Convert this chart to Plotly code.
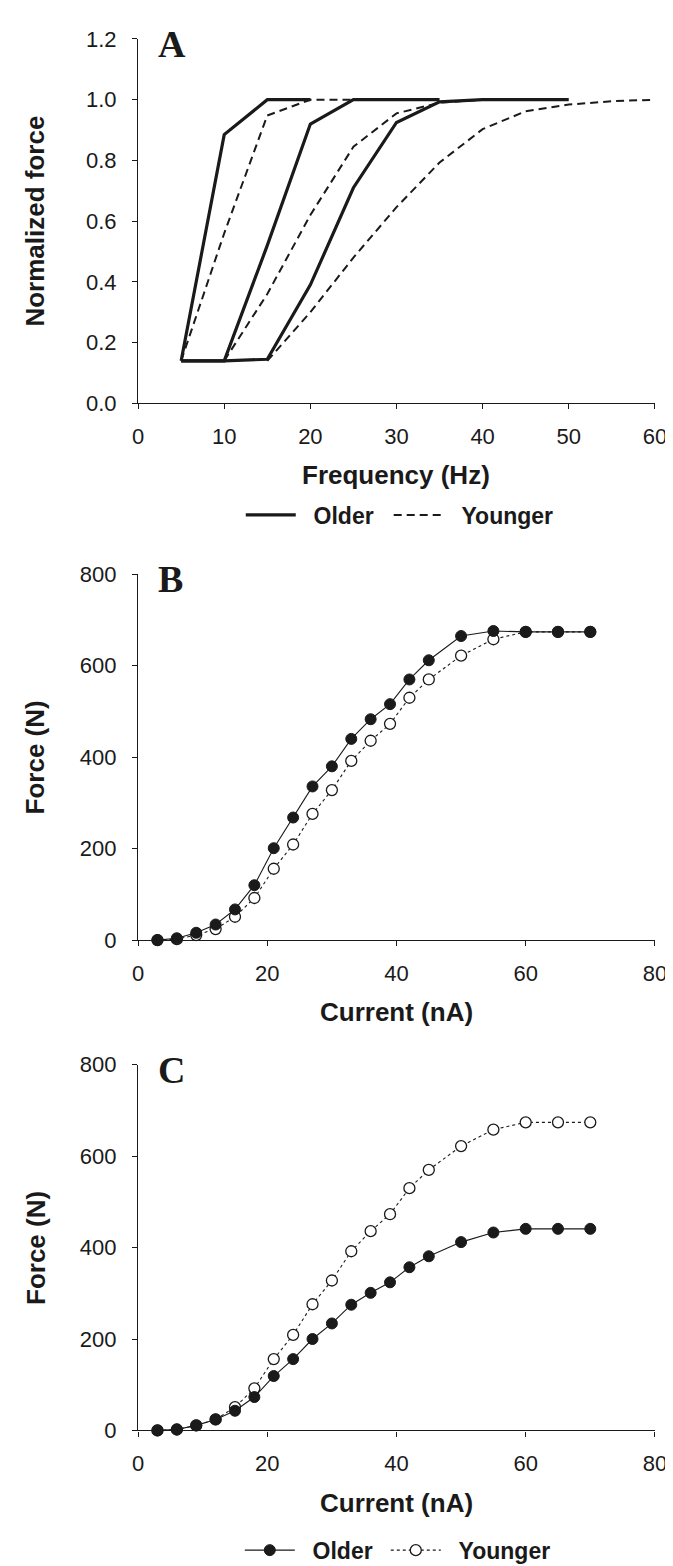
import plotly.graph_objects as go

# ---------------- Panel A data (normalized force vs frequency) ----------------
freq_old_1 = [5, 10, 15, 20]
force_old_1 = [0.14, 0.885, 1.0, 1.0]
freq_old_2 = [5, 10, 15, 20, 25, 30, 35]
force_old_2 = [0.14, 0.14, 0.52, 0.92, 1.0, 1.0, 1.0]
freq_old_3 = [5, 10, 15, 20, 25, 30, 35, 40, 45, 50]
force_old_3 = [0.14, 0.14, 0.145, 0.39, 0.71, 0.925, 0.993, 1.0, 1.0, 1.0]

freq_yng_1 = [5, 10, 15, 20, 25]
force_yng_1 = [0.14, 0.56, 0.948, 1.0, 1.0]
freq_yng_2 = [10, 15, 20, 25, 30, 35, 40]
force_yng_2 = [0.14, 0.36, 0.62, 0.845, 0.955, 0.99, 1.0]
freq_yng_3 = [15, 20, 25, 30, 35, 40, 45, 50, 55, 60]
force_yng_3 = [0.14, 0.30, 0.48, 0.646, 0.793, 0.903, 0.962, 0.984, 0.995, 1.0]

# ---------------- Panels B and C data (force vs current) ----------------
current = [3, 6, 9, 12, 15, 18, 21, 24, 27, 30, 33, 36, 39, 42, 45, 50, 55, 60, 65, 70]
force_B_older = [0, 4, 16, 34, 67, 120, 201, 268, 336, 380, 440, 483, 516, 570,
                 612, 665, 676, 674, 674, 674]
force_younger = [0, 2, 11, 24, 51, 92, 156, 209, 276, 328, 392, 436, 473, 530,
                 570, 622, 658, 674, 674, 674]
force_C_older = [0, 2, 11, 24, 43, 73, 119, 156, 200, 234, 275, 301, 324, 357,
                 381, 412, 433, 441, 441, 441]

series_names = ["Older", "Younger"]

tickvals_A_x = [0, 10, 20, 30, 40, 50, 60]
tickvals_A_y = [0.0, 0.2, 0.4, 0.6, 0.8, 1.0, 1.2]
tickvals_BC_x = [0, 20, 40, 60, 80]
tickvals_BC_y = [0, 200, 400, 600, 800]

INK = "#1a1a1a"
SANS = "Liberation Sans, Arial, sans-serif"
SERIF = "Liberation Serif, Times New Roman, serif"
W, H = 673, 1566
PAD = "\u00a0\u00a0"  # small gap between legend symbol and label

fig = go.Figure()

# Panel A
old_sets = [(freq_old_1, force_old_1), (freq_old_2, force_old_2), (freq_old_3, force_old_3)]
yng_sets = [(freq_yng_1, force_yng_1), (freq_yng_2, force_yng_2), (freq_yng_3, force_yng_3)]
for i, (xs, ys) in enumerate(yng_sets):
    fig.add_trace(go.Scatter(x=xs, y=ys, mode="lines", name=PAD + series_names[1],
                             line=dict(color=INK, width=2, dash="8px,5px"),
                             legendgroup="yA", showlegend=(i == 0), legend="legend2",
                             xaxis="x", yaxis="y"))
for i, (xs, ys) in enumerate(old_sets):
    fig.add_trace(go.Scatter(x=xs, y=ys, mode="lines", name=PAD + series_names[0],
                             line=dict(color=INK, width=3.2),
                             legendgroup="oA", showlegend=(i == 0), legend="legend",
                             xaxis="x", yaxis="y"))

# Panels B and C
def add_pair(older, xa, ya, show):
    fig.add_trace(go.Scatter(x=current, y=force_younger, mode="lines+markers",
                             name=PAD + series_names[1],
                             line=dict(color=INK, width=1.1, dash="dot"),
                             marker=dict(symbol="circle", size=11, color="white",
                                         line=dict(color=INK, width=1.3)),
                             cliponaxis=False, showlegend=show, legend="legend4",
                             xaxis=xa, yaxis=ya))
    fig.add_trace(go.Scatter(x=current, y=older, mode="lines+markers",
                             name=PAD + series_names[0],
                             line=dict(color=INK, width=1.1),
                             marker=dict(symbol="circle", size=11, color=INK,
                                         line=dict(color=INK, width=1)),
                             cliponaxis=False, showlegend=show, legend="legend3",
                             xaxis=xa, yaxis=ya))

add_pair(force_B_older, "x2", "y2", False)
add_pair(force_C_older, "x3", "y3", True)

xdom = [127.5 / W, 658.5 / W]
def ydom(top_px, bot_px):
    return [(H - bot_px) / H, (H - top_px) / H]

axis_common = dict(showline=True, linecolor=INK, linewidth=1.3, ticks="outside",
                   ticklen=5, tickwidth=1.3, tickcolor=INK, showgrid=False,
                   zeroline=False, tickfont=dict(family=SANS, size=22, color=INK),
                   fixedrange=True)
ycommon = dict(axis_common, ticklabelstandoff=11)
xcommon = dict(axis_common, ticklabelstandoff=8)

def leg(x_px, y_px):
    return dict(orientation="h", x=x_px / W, xanchor="left", y=(H - y_px) / H, yanchor="middle",
                font=dict(family=SANS, size=23, color=INK, weight="bold"),
                bgcolor="rgba(0,0,0,0)", itemwidth=50, borderwidth=0)

fig.update_layout(
    width=W, height=H,
    margin=dict(l=0, r=0, t=0, b=0),
    paper_bgcolor="white", plot_bgcolor="white",
    xaxis=dict(domain=xdom, range=[0, 60], tickvals=tickvals_A_x, anchor="y", **xcommon),
    yaxis=dict(domain=ydom(19.3, 389.5), range=[0, 1.2], tickvals=tickvals_A_y,
               tickformat=".1f", anchor="x", **ycommon),
    xaxis2=dict(domain=xdom, range=[0, 80], tickvals=tickvals_BC_x, anchor="y2", **xcommon),
    yaxis2=dict(domain=ydom(563.3, 935), range=[0, 800], tickvals=tickvals_BC_y,
                anchor="x2", **ycommon),
    xaxis3=dict(domain=xdom, range=[0, 80], tickvals=tickvals_BC_x, anchor="y3", **xcommon),
    yaxis3=dict(domain=ydom(1061.7, 1433.3), range=[0, 800], tickvals=tickvals_BC_y,
                anchor="x3", **ycommon),
    legend=leg(233, 503),
    legend2=leg(385, 503),
    legend3=leg(232, 1555),
    legend4=leg(382, 1555),
    showlegend=True,
)

annotations = []
# panel letters
for letter, cy in [("A", 24), ("B", 568.5), ("C", 1067.3)]:
    annotations.append(dict(text=letter, x=146 / W, xanchor="left", y=(H - cy) / H,
                            yanchor="middle", xref="paper", yref="paper", showarrow=False,
                            font=dict(family=SERIF, size=38, color=INK, weight="bold")))
# x-axis titles
for txt, cy in [("Frequency (Hz)", 462), ("Current (nA)", 1008), ("Current (nA)", 1507)]:
    annotations.append(dict(text=txt, x=393 / W, xanchor="center", y=(H - cy) / H,
                            yanchor="middle", xref="paper", yref="paper", showarrow=False,
                            font=dict(family=SANS, size=26, color=INK, weight="bold")))
# y-axis titles
for txt, cy in [("Normalized force", 204.4), ("Force (N)", 749), ("Force (N)", 1247.5)]:
    annotations.append(dict(text=txt, x=22 / W, xanchor="center", y=(H - cy) / H,
                            yanchor="middle", xref="paper", yref="paper", showarrow=False,
                            textangle=-90,
                            font=dict(family=SANS, size=26, color=INK, weight="bold")))
fig.update_layout(annotations=annotations)

fig.write_html("out.html")
